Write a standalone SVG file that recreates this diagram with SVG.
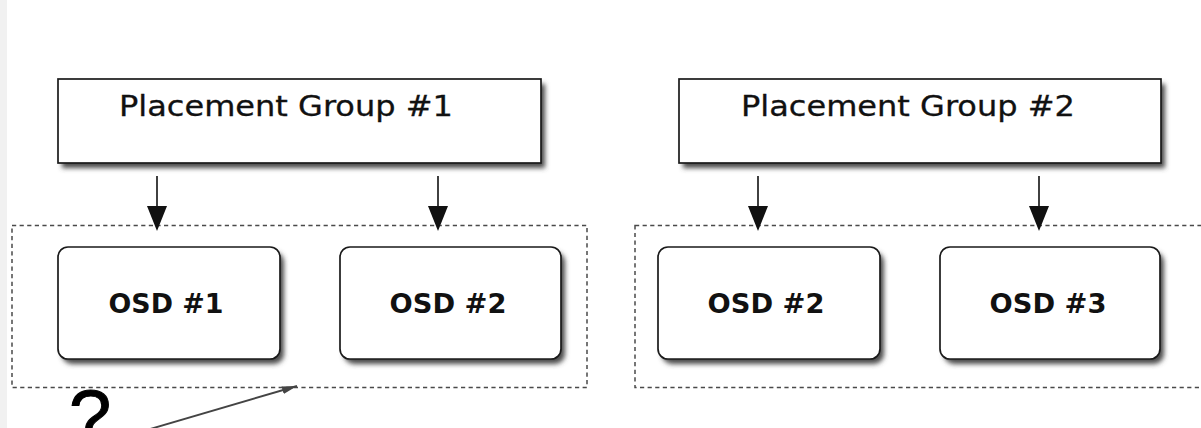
<svg xmlns="http://www.w3.org/2000/svg" width="1201" height="428" viewBox="0 0 1201 428">
  <style>
    .pg { fill: #ffffff; stroke: #1a1a1a; stroke-width: 1.7; }
    .osd { fill: #ffffff; stroke: #1a1a1a; stroke-width: 1.7; }
    .shadow { fill: #4a4a4a; filter: url(#soft); }
    .grp { fill: none; stroke: #4a4a4a; stroke-width: 1.5; stroke-dasharray: 4.2 3.4; }
    .pgtext { font-family: "DejaVu Sans", "Liberation Sans", sans-serif; font-size: 28px; fill: #111111; stroke: #111111; stroke-width: 0.3; }
    .osdtext { font-family: "DejaVu Sans", "Liberation Sans", sans-serif; font-weight: bold; font-size: 27px; fill: #111111; text-anchor: middle; }
    .edge { stroke: #111111; stroke-width: 1.6; fill: none; marker-end: url(#head); }
    .pointer { stroke: #444444; stroke-width: 1.9; fill: none; marker-end: url(#thin); }
    .q { font-family: "Liberation Sans", Arial, sans-serif; font-size: 76px; fill: #000000; stroke: #000000; stroke-width: 1; }
  </style>
  <defs>
    <filter id="soft" x="-10%" y="-20%" width="120%" height="140%">
      <feGaussianBlur stdDeviation="2.6"/>
    </filter>
    <marker id="head" markerUnits="userSpaceOnUse" markerWidth="26" markerHeight="22" viewBox="0 0 26 22" refX="0" refY="11" orient="auto">
      <path d="M0,1 L25,11 L0,21 Z" fill="#111111"/>
    </marker>
    <marker id="thin" markerUnits="userSpaceOnUse" markerWidth="16" markerHeight="10" viewBox="0 0 16 10" refX="15" refY="5" orient="auto">
      <path d="M0,1 L15,5 L0,9 Z" fill="#444444"/>
    </marker>
  </defs>

  <rect x="0" y="0" width="1201" height="428" fill="#ffffff"/>
  <rect x="0" y="0" width="7" height="428" fill="#f1f1f1"/>

  <!-- dashed replica sets -->
  <g id="set-1">
    <rect class="grp" x="12" y="225.5" width="575" height="162"/>
  </g>
  <g id="set-2">
    <rect class="grp" x="635" y="225.5" width="600" height="162"/>
  </g>

  <!-- placement groups -->
  <g id="pg-1">
    <rect class="shadow" x="62" y="84" width="483" height="84"/>
    <rect class="pg" x="58" y="79" width="483" height="84"/>
    <text class="pgtext" x="119" y="116" textLength="334" lengthAdjust="spacingAndGlyphs">Placement Group #1</text>
  </g>
  <g id="pg-2">
    <rect class="shadow" x="683" y="84" width="482" height="84"/>
    <rect class="pg" x="679" y="79" width="482" height="84"/>
    <text class="pgtext" x="741" y="116" textLength="334" lengthAdjust="spacingAndGlyphs">Placement Group #2</text>
  </g>

  <!-- OSDs -->
  <g id="osd-1a">
    <rect class="shadow" x="62" y="252" width="222" height="112" rx="10"/>
    <rect class="osd" x="58" y="247" width="222" height="112" rx="10"/>
    <text class="osdtext" x="166" y="313" textLength="115" lengthAdjust="spacingAndGlyphs">OSD #1</text>
  </g>
  <g id="osd-2a">
    <rect class="shadow" x="344" y="252" width="221" height="112" rx="10"/>
    <rect class="osd" x="340" y="247" width="221" height="112" rx="10"/>
    <text class="osdtext" x="448" y="313" textLength="117" lengthAdjust="spacingAndGlyphs">OSD #2</text>
  </g>
  <g id="osd-2b">
    <rect class="shadow" x="662" y="252" width="222" height="112" rx="10"/>
    <rect class="osd" x="658" y="247" width="222" height="112" rx="10"/>
    <text class="osdtext" x="766" y="313" textLength="117" lengthAdjust="spacingAndGlyphs">OSD #2</text>
  </g>
  <g id="osd-3b">
    <rect class="shadow" x="944" y="252" width="220" height="112" rx="10"/>
    <rect class="osd" x="940" y="247" width="220" height="112" rx="10"/>
    <text class="osdtext" x="1048" y="313" textLength="117" lengthAdjust="spacingAndGlyphs">OSD #3</text>
  </g>

  <!-- connectors -->
  <g id="edges">
    <line class="edge" x1="157" y1="176" x2="157" y2="206"/>
    <line class="edge" x1="438" y1="176" x2="438" y2="206"/>
    <line class="edge" x1="758" y1="176" x2="758" y2="206"/>
    <line class="edge" x1="1039" y1="176" x2="1039" y2="206"/>
    <line class="pointer" x1="140" y1="432" x2="297" y2="386"/>
  </g>

  <text class="q" x="69" y="443">?</text>
</svg>
